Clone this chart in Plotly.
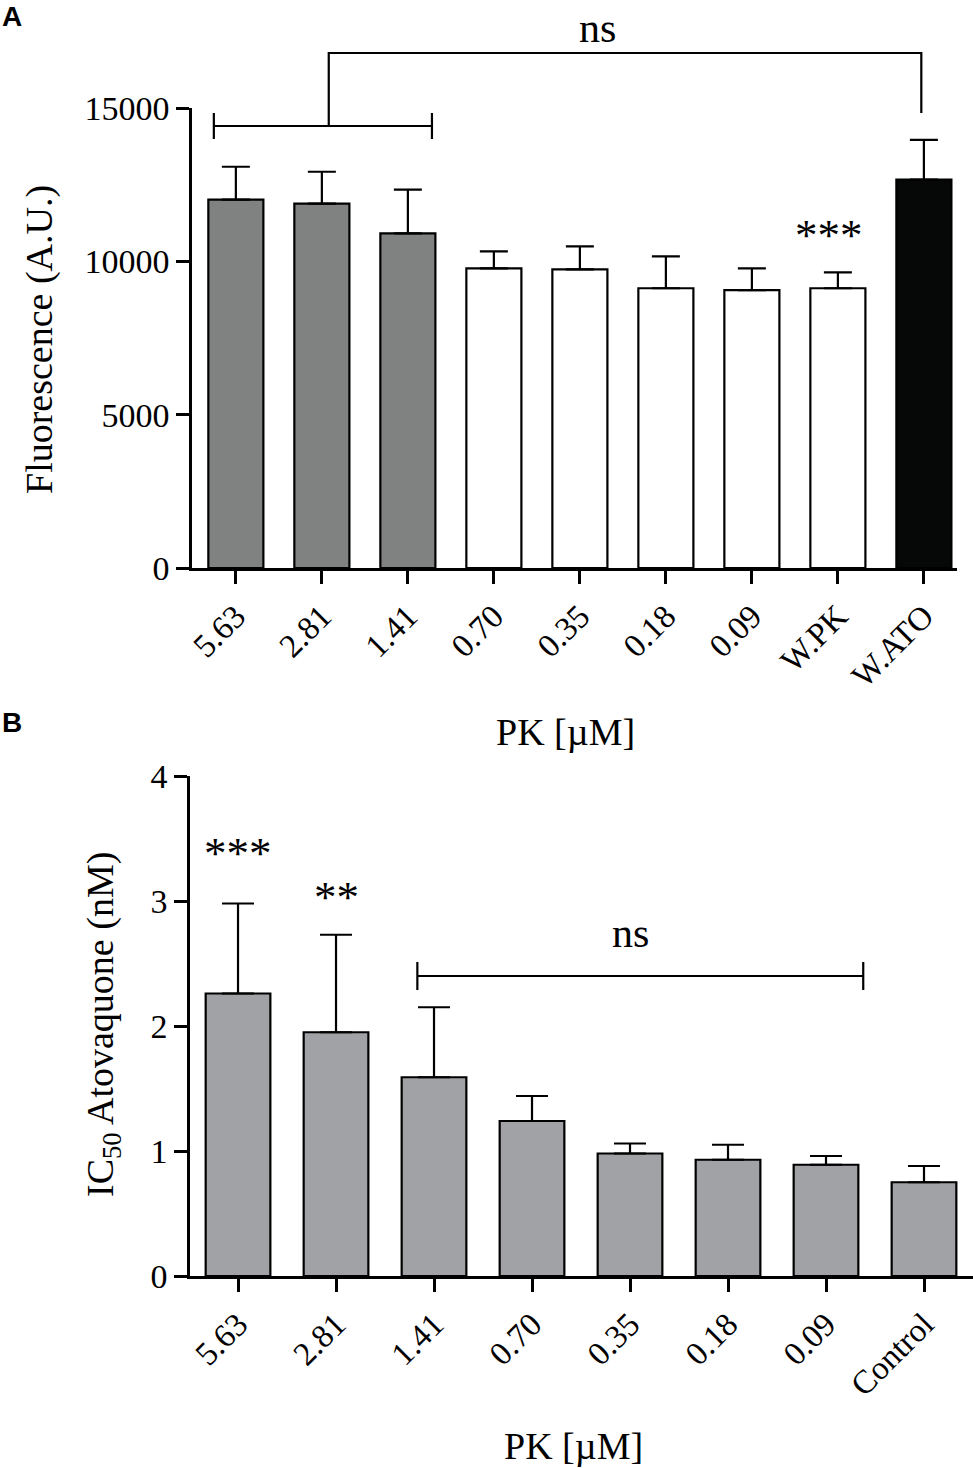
import plotly.graph_objects as go

# panel A data
cats_a = ["5.63", "2.81", "1.41", "0.70", "0.35", "0.18", "0.09", "W.PK", "W.ATO"]
fluo_mean = [12013, 11883, 10909, 9770, 9740, 9123, 9058, 9123, 12662]
fluo_sd = [1071, 1039, 1429, 555, 747, 1039, 715, 520, 1299]
colors_a = ["#808281"] * 3 + ["#ffffff"] * 5 + ["#060808"]

# panel B data
cats_b = ["5.63", "2.81", "1.41", "0.70", "0.35", "0.18", "0.09", "Control"]
ic50_mean = [2.26, 1.95, 1.59, 1.24, 0.98, 0.93, 0.89, 0.75]
ic50_sd = [0.72, 0.78, 0.56, 0.20, 0.08, 0.12, 0.07, 0.13]

W, H = 973, 1468
SERIF = "Liberation Serif"
xa = list(range(len(cats_a)))
xb = list(range(len(cats_b)))

# plot areas in pixels
ya_dom = [1 - 568 / H, 1 - 108 / H]
yb_dom = [1 - 1276 / H, 1 - 776 / H]
ya_max = 15000
# invisible helper axis for panel A that reaches the top of the page,
# same scale as the real one, so brackets above the axis are not clipped
ya_top_dom = [ya_dom[0], 1.0]
ya_top_max = ya_max * (ya_top_dom[1] - ya_top_dom[0]) / (ya_dom[1] - ya_dom[0])

fig = go.Figure()

fig.add_trace(go.Bar(
    x=xa, y=fluo_mean, width=0.64,
    marker=dict(color=colors_a, line=dict(color="black", width=2.2)),
    error_y=dict(type="data", symmetric=False, array=fluo_sd, arrayminus=[0] * len(xa),
                 color="black", thickness=2.2, width=14),
    xaxis="x", yaxis="y", showlegend=False))

fig.add_trace(go.Bar(
    x=xb, y=ic50_mean, width=0.66,
    marker=dict(color="#a1a2a5", line=dict(color="black", width=2.2)),
    error_y=dict(type="data", symmetric=False, array=ic50_sd, arrayminus=[0] * len(xb),
                 color="black", thickness=2.2, width=16),
    xaxis="x2", yaxis="y2", showlegend=False))


def line(xs, ys, xaxis, yaxis):
    fig.add_trace(go.Scatter(
        x=xs, y=ys, mode="lines", line=dict(color="black", width=2.2),
        hoverinfo="skip", showlegend=False, xaxis=xaxis, yaxis=yaxis))


def bracket(x0, x1, y, tick, xaxis, yaxis):
    # horizontal bar with small vertical end ticks
    line([x0, x0, None, x0, x1, None, x1, x1],
         [y - tick, y + tick, None, y, y, None, y - tick, y + tick], xaxis, yaxis)


# significance brackets, panel A
bracket(-0.256, 2.28, 14413, 424, "x", "y3")
line([1.08, 1.08, 7.97, 7.97], [14413, 16793, 16793, 14837], "x", "y3")
# panel B
bracket(1.83, 6.38, 2.4, 0.112, "x2", "y2")

axis_common = dict(showline=True, linecolor="black", linewidth=2.5, ticks="outside",
                   tickcolor="black", tickwidth=2.5, ticklen=13, showgrid=False,
                   zeroline=False, automargin=False,
                   tickfont=dict(family=SERIF, size=34, color="black"))
xtick_font = dict(family=SERIF, size=33, color="black")

fig.update_layout(
    width=W, height=H, margin=dict(l=0, r=0, t=0, b=0, autoexpand=False),
    paper_bgcolor="white", plot_bgcolor="rgba(0,0,0,0)",
    xaxis=dict(axis_common, domain=[192 / W, 957 / W], range=[-0.51, 8.385],
               tickvals=xa, ticktext=cats_a, tickangle=-45, anchor="y", tickfont=xtick_font),
    yaxis=dict(axis_common, domain=ya_dom, range=[0, ya_max], tickformat="d",
               tickvals=[0, 5000, 10000, 15000], anchor="x"),
    yaxis3=dict(domain=ya_top_dom, range=[0, ya_top_max], visible=False, anchor="x",
                automargin=False),
    xaxis2=dict(axis_common, domain=[190 / W, 1.0], range=[-0.49, 7.5],
                tickvals=xb, ticktext=cats_b, tickangle=-45, anchor="y2", tickfont=xtick_font),
    yaxis2=dict(axis_common, domain=yb_dom, range=[0, 4],
                tickvals=[0, 1, 2, 3, 4], anchor="x2"),
)

txt = dict(family=SERIF, size=38, color="black")


def paper_text(text, px, py, font, angle=0):
    fig.add_annotation(text=text, x=px / W, y=1 - py / H, xref="paper", yref="paper",
                       xanchor="center", yanchor="middle", textangle=angle,
                       showarrow=False, font=font)


paper_text("Fluorescence (A.U.)", 40, 340, txt, -90)
paper_text("PK [µM]", 565, 732, txt)
paper_text("IC<sub>50</sub> Atovaquone (nM)", 103, 1025, txt, -90)
paper_text("PK [µM]", 573, 1446, txt)

# panel letters
lbl = dict(family="Liberation Sans", size=28, color="black")
paper_text("<b>A</b>", 12, 16, lbl)
paper_text("<b>B</b>", 12, 723, lbl)

# significance labels
sig = dict(family=SERIF, size=42, color="black")
star = dict(family=SERIF, size=45, color="black")


def data_text(text, x, y, xref, yref, font):
    fig.add_annotation(text=text, x=x, y=y, xref=xref, yref=yref, xanchor="center",
                       yanchor="middle", showarrow=False, font=font)


data_text("ns", 4.2, 17609, "x", "y3", sig)
data_text("***", 6.9, 10860, "x", "y", star)
data_text("***", 0, 3.384, "x2", "y2", star)
data_text("**", 1, 3.03, "x2", "y2", star)
data_text("ns", 4.0, 2.744, "x2", "y2", sig)

# page has a default 8px body margin; drop it so the figure fills the window
fig.write_html("out.html", config={"displayModeBar": False},
               post_script="document.body.style.margin='0';")
